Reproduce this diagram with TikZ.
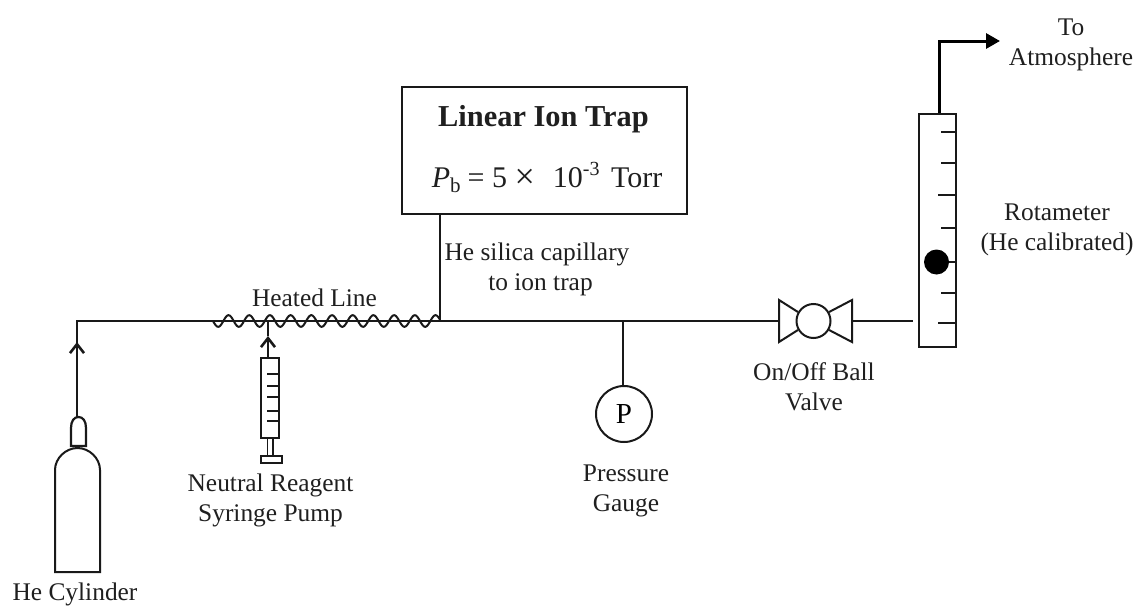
\documentclass[tikz,border=0pt]{standalone}
\usepackage{fontspec}
\setmainfont{Liberation Serif}
\usetikzlibrary{arrows.meta,calc}
\tikzset{
  line/.style={line width=2pt,draw=black!90},
  pipe/.style={line, line cap=butt},
  label/.style={align=center,font=\fontsize{25.4}{30}\selectfont,inner sep=0pt,text=black!88},
  openhead/.style={-{Straight Barb[length=9pt,width=14pt,line width=2.6pt]}},
  tick/.style={line width=2pt,draw=black!90},
}
\begin{document}
\begin{tikzpicture}[x=1pt,y=-1pt]
\useasboundingbox (0,0) rectangle (1137,605);
% named points
\coordinate (corner) at (77,321);
\coordinate (teeA) at (268,321);
\coordinate (teeB) at (440,321);
\coordinate (teeC) at (623,321);
\coordinate (valveL) at (779,321);
\coordinate (valveR) at (852,321);
\coordinate (lineEnd) at (913,321);
\coordinate (bend) at (939,41);
\coordinate (atmTip) at (1000,41);
\coordinate (cylTop) at (77,417);
% trap box
\node[draw=black!90,line width=2pt,minimum width=285pt,minimum height=127pt,inner sep=0pt] (trap) at (544.5,150.5) {};
\node[label,font=\fontsize{30.4}{32}\selectfont\bfseries] (trapname) at (543.5,119.5) {Linear Ion Trap};
\node[label,font=\fontsize{30}{32}\selectfont,anchor=base] (trapp) at (547,187) {\textit{P}\raisebox{-0.17em}{\fontsize{21}{22}\selectfont b}\hspace{7pt}= 5 \raisebox{-1.8pt}{\fontsize{36}{32}\selectfont ×}\hspace{18pt}10\raisebox{0.38em}{\fontsize{20}{22}\selectfont -3}\hspace{4pt} Torr};
% pipes
\draw[pipe] (cylTop) -- (corner) -- (valveL);
\draw[pipe] (valveR) -- (lineEnd);
\draw[pipe] (trap.south -| teeB) -- (teeB);
\draw[line,openhead] (cylTop) -- (77,342);
\draw[pipe] (77,342) -- (corner);
% heated coil
\draw[line] plot[domain=213:440,samples=300,smooth] (\x,{321+5.8*sin(((\x-213)/20.7)*360)});
% syringe
\node[draw=black!90,line width=2pt,minimum width=18pt,minimum height=80pt,inner sep=0pt] (barrel) at (270,398) {};
\draw[line,openhead] (barrel.north -| teeA) -- (268,336);
\draw[pipe] (268,336) -- (teeA);
\foreach \yy in {374,386,397,411,421} \draw[tick] (267,\yy) -- (279,\yy);
\node[draw=black!90,line width=2pt,minimum width=21pt,minimum height=7pt,inner sep=0pt] (handle) at (271.5,459.5) {};
\draw[line,line width=1.6pt] (267.5,438) -- (267.5,456) (273,438) -- (273,456);
% cylinder
\draw[line] (55,572) -- (55,470) .. controls (55,458) and (66,448) .. (77.5,448) .. controls (89,448) and (100,458) .. (100,470) -- (100,572) -- cycle;
\draw[line,line width=2.2pt] (71,446) -- (71,428) .. controls (71,421) and (74,417) .. (78.5,417) .. controls (83,417) and (86,421) .. (86,428) -- (86,446) -- cycle;
% gauge
\node[draw=black!90,line width=2pt,circle,minimum size=56pt,inner sep=0pt,font=\fontsize{29}{30}\selectfont] (gauge) at (624,414) {P};
\draw[pipe] (teeC) -- (teeC |- gauge.north);
% valve
\node[draw=black!90,line width=2pt,circle,minimum size=34pt,inner sep=0pt] (ball) at (813.5,321) {};
\draw[line,line join=miter] (ball.150) -- (779,300) -- (779,342) -- (ball.210);
\draw[line,line join=miter] (ball.30) -- (852,300) -- (852,342) -- (ball.330);
% rotameter
\node[draw=black!90,line width=2.2pt,minimum width=37pt,minimum height=233pt,inner sep=0pt] (rota) at (937.5,230.5) {};
\foreach \yy/\xx in {132/941,163/941,195/938,228/941,262/946,293/941,323/938} \draw[tick] (\xx,\yy) -- (956,\yy);
\node[circle,fill=black,minimum size=25pt,inner sep=0pt] (floatball) at (936.5,262) {};
\draw[line width=3pt,draw=black,line join=miter,-{Triangle[length=14pt,width=15pt]}] (rota.north -| bend) -- (bend) -- (atmTip);
% labels
\node[label] (l1) at (75,594.5) {He Cylinder};
\node[label] (l2) at (270.5,500) {Neutral Reagent\\Syringe Pump};
\node[label] (l3) at (314.5,298) {Heated Line};
\node[label] (l4) at (537,269) {He silica capillary\\\hspace*{7pt}to ion trap};
\node[label] (l5) at (626,491) {Pressure\\Gauge};
\node[label] (l6) at (814,387) {On/Off Ball\\Valve};
\node[label] (l7) at (1057,230) {Rotameter\\(He calibrated)};
\node[label] (l8) at (1071,45) {To\\Atmosphere};
\end{tikzpicture}
\end{document}
